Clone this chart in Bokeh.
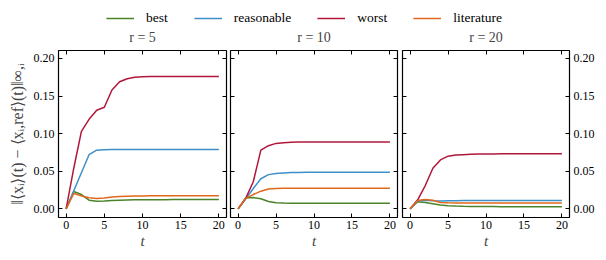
from bokeh.plotting import figure
from bokeh.layouts import column, row
from bokeh.models import (Range1d, LinearAxis, FixedTicker, NumeralTickFormatter,
                          Legend, LegendItem)
from bokeh.embed import file_html
from bokeh.resources import INLINE

t = list(range(21))

best5 = [0, 0.023, 0.019, 0.0115, 0.0102, 0.0105, 0.011, 0.0115, 0.0118, 0.012, 0.012,
         0.0121, 0.0122, 0.0122, 0.0123, 0.0123, 0.0123, 0.0123, 0.0123, 0.0123, 0.0123]
reasonable5 = [0, 0.024, 0.048, 0.072, 0.078, 0.0787, 0.0788, 0.0789, 0.079, 0.079, 0.079,
               0.079, 0.079, 0.079, 0.079, 0.079, 0.079, 0.079, 0.079, 0.079, 0.079]
worst5 = [0, 0.054, 0.103, 0.119, 0.131, 0.135, 0.158, 0.169, 0.173, 0.1748, 0.1755,
          0.1758, 0.176, 0.176, 0.176, 0.176, 0.176, 0.176, 0.176, 0.176, 0.176]
literature5 = [0, 0.0205, 0.0172, 0.0148, 0.0138, 0.0145, 0.0158, 0.0165, 0.0169, 0.0171, 0.0172,
               0.0173, 0.0173, 0.0173, 0.0173, 0.0173, 0.0173, 0.0173, 0.0173, 0.0173, 0.0173]

best10 = [0, 0.0145, 0.015, 0.0135, 0.0098, 0.008, 0.0077, 0.0076, 0.0076, 0.0076, 0.0076,
          0.0076, 0.0076, 0.0076, 0.0076, 0.0076, 0.0076, 0.0076, 0.0076, 0.0076, 0.0076]
reasonable10 = [0, 0.013, 0.027, 0.040, 0.0455, 0.047, 0.0478, 0.0482, 0.0484, 0.0485, 0.0485,
                0.0485, 0.0485, 0.0485, 0.0485, 0.0485, 0.0485, 0.0485, 0.0485, 0.0485, 0.0485]
worst10 = [0, 0.014, 0.036, 0.078, 0.084, 0.087, 0.088, 0.0885, 0.0888, 0.089, 0.089,
           0.089, 0.089, 0.089, 0.089, 0.089, 0.089, 0.089, 0.089, 0.089, 0.089]
literature10 = [0, 0.014, 0.019, 0.0235, 0.0265, 0.0272, 0.0274, 0.0275, 0.0275, 0.0275, 0.0275,
                0.0275, 0.0275, 0.0275, 0.0275, 0.0275, 0.0275, 0.0275, 0.0275, 0.0275, 0.0275]

best20 = [0, 0.0095, 0.0085, 0.0068, 0.005, 0.0042, 0.0037, 0.0034, 0.0032, 0.0031, 0.003,
          0.003, 0.0029, 0.0029, 0.0029, 0.0029, 0.0029, 0.0029, 0.0029, 0.0029, 0.0029]
reasonable20 = [0, 0.0105, 0.0115, 0.0108, 0.0105, 0.0107, 0.0109, 0.011, 0.011, 0.0111, 0.0111,
                0.0111, 0.0111, 0.0111, 0.0111, 0.0111, 0.0111, 0.0111, 0.0111, 0.0111, 0.0111]
worst20 = [0, 0.012, 0.031, 0.054, 0.065, 0.070, 0.0715, 0.072, 0.0725, 0.0728, 0.073,
           0.073, 0.0731, 0.0732, 0.0732, 0.0733, 0.0733, 0.0733, 0.0733, 0.0733, 0.0733]
literature20 = [0, 0.011, 0.0125, 0.0115, 0.0085, 0.008, 0.0079, 0.0078, 0.0078, 0.0078, 0.0078,
                0.0078, 0.0078, 0.0078, 0.0078, 0.0078, 0.0078, 0.0078, 0.0078, 0.0078, 0.0078]

series_names = ["best", "reasonable", "worst", "literature"]
colors = ["#4b832b", "#3f8fc8", "#b1173b", "#e0681c"]
titles = ["r = 5", "r = 10", "r = 20"]
panels = [[best5, reasonable5, worst5, literature5],
          [best10, reasonable10, worst10, literature10],
          [best20, reasonable20, worst20, literature20]]
x_ticks = [0, 5, 10, 15, 20]
y_ticks = [0.0, 0.05, 0.10, 0.15, 0.20]
ylabel = "‖⟨xᵢ⟩(t) − ⟨xᵢ,ref⟩(t)‖∞,ᵢ"

FONT = "Liberation Serif"


def style_axis(ax, ticks, show_labels, standoff=4):
    ax.ticker = FixedTicker(ticks=ticks)
    ax.major_tick_in = 4
    ax.major_tick_out = 0
    ax.minor_tick_in = 0
    ax.minor_tick_out = 0
    ax.major_tick_line_color = "black"
    ax.major_tick_line_width = 1
    ax.axis_line_color = None
    ax.major_label_text_font = FONT
    if show_labels:
        ax.major_label_text_color = "black"
        ax.major_label_text_font_size = "12px"
        ax.major_label_standoff = standoff
    else:
        ax.major_label_text_color = None
        ax.major_label_text_font_size = "0px"
        ax.major_label_standoff = 0


borders = [(58, 2, 168), (2, 2, 167), (3, 30, 167)]
figs = []
for i, (data, title) in enumerate(zip(panels, titles)):
    bl, br, fw = borders[i]
    p = figure(frame_width=fw, frame_height=167, output_backend="svg", toolbar_location=None,
               x_range=Range1d(-1, 21), y_range=Range1d(-0.0115, 0.2105),
               min_border_left=bl, min_border_right=br, min_border_top=21, min_border_bottom=36,
               y_axis_location=None, x_axis_location=None, title=title)
    p.title.text_font = FONT
    p.title.text_font_size = "14px"
    p.title.text_font_style = "normal"
    p.title.align = "center"
    p.title.vertical_align = "top"
    p.title.standoff = 7
    p.title.offset = 0
    p.outline_line_color = "black"
    p.outline_line_width = 1.2
    p.outline_line_alpha = 1
    p.xgrid.visible = False
    p.ygrid.visible = False
    p.background_fill_color = "white"
    p.border_fill_color = "white"

    xb = LinearAxis()
    style_axis(xb, x_ticks, True, standoff=3)
    xb.axis_label = "t"
    xb.axis_label_text_font = FONT
    xb.axis_label_text_font_style = "italic"
    xb.axis_label_text_font_size = "15px"
    xb.axis_label_standoff = 1
    p.add_layout(xb, "below")
    xt = LinearAxis()
    style_axis(xt, x_ticks, False)
    p.add_layout(xt, "above")

    yl = LinearAxis(formatter=NumeralTickFormatter(format="0.00"))
    style_axis(yl, y_ticks, i == 0)
    if i == 0:
        yl.axis_label = ylabel
        yl.axis_label_text_font = FONT
        yl.axis_label_text_font_style = "normal"
        yl.axis_label_text_font_size = "16px"
        yl.axis_label_standoff = 5
    p.add_layout(yl, "left")
    yr = LinearAxis(formatter=NumeralTickFormatter(format="0.00"))
    style_axis(yr, y_ticks, i == 2)
    p.add_layout(yr, "right")

    for vals, c in zip(data, colors):
        p.line(t, vals, line_color=c, line_width=1.5)
    figs.append(p)

# shared legend on top (its lines sit outside the visible range, only the legend shows)
lg = figure(frame_width=572, frame_height=26, output_backend="svg", toolbar_location=None,
            x_range=Range1d(0, 1), y_range=Range1d(0, 1), min_border=0, min_border_left=18,
            x_axis_location=None, y_axis_location=None)
lg.outline_line_color = None
lg.xgrid.visible = False
lg.ygrid.visible = False
items = []
for name, c in zip(series_names, colors):
    r = lg.line(x=[-2, -1], y=[-2, -2], line_color=c, line_width=1.5)
    items.append(LegendItem(label=name, renderers=[r]))
legend = Legend(items=items, orientation="horizontal", location="bottom_center",
                glyph_width=28, glyph_height=10, label_height=10, label_standoff=12,
                spacing=26, padding=0, margin=0, border_line_color=None,
                background_fill_alpha=0, label_text_font=FONT, label_text_font_size="13.5px",
                label_text_font_style="normal", label_text_color="black")
lg.add_layout(legend, "center")

layout = column(lg, row(*figs, spacing=0), spacing=0)
open("out.html", "w").write(file_html(layout, INLINE))
